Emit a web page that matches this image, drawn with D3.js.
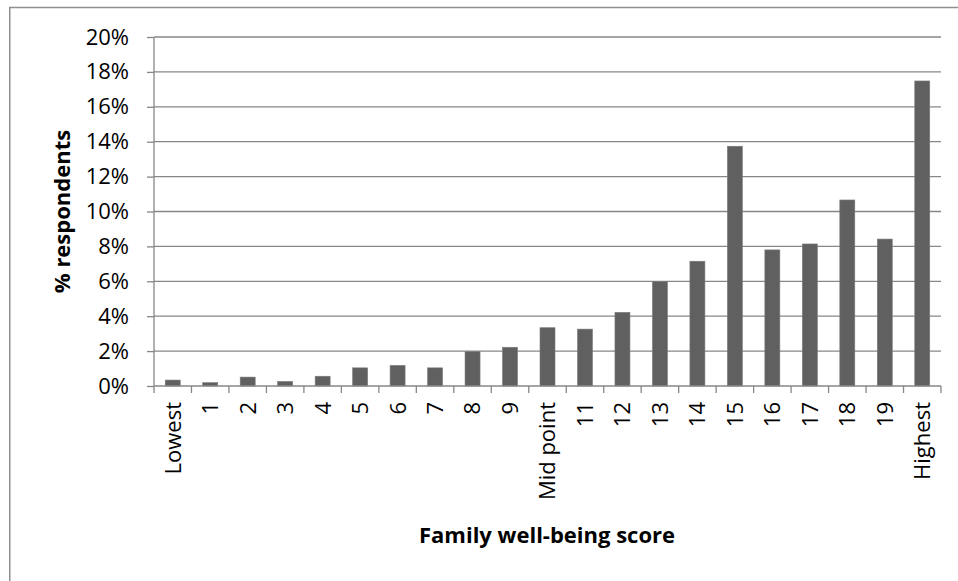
<!DOCTYPE html>
<html>
<head>
<meta charset="utf-8">
<script src="https://cdn.jsdelivr.net/npm/d3@7"></script>
<style>
  html, body { margin: 0; padding: 0; background: #fff; }
  svg { display: block; font-family: "Open Sans", "Noto Sans", sans-serif; }
</style>
</head>
<body>
<svg id="chart" width="958" height="581"></svg>
<script>
const categories = ["Lowest","1","2","3","4","5","6","7","8","9","Mid point","11","12","13","14","15","16","17","18","19","Highest"];
const values = [0.34, 0.19, 0.51, 0.26, 0.56, 1.04, 1.18, 1.04, 1.97, 2.22, 3.34, 3.26, 4.22, 5.98, 7.15, 13.74, 7.8, 8.14, 10.66, 8.42, 17.48];
const yTicks = [0, 2, 4, 6, 8, 10, 12, 14, 16, 18, 20];
const xTitle = "Family well-being score";
const yTitle = "% respondents";

const svg = d3.select("#chart");
const W = 958, H = 581;
const plot = { left: 154, right: 941, top: 37, bottom: 386 };

svg.append("rect").attr("width", W).attr("height", H).attr("fill", "#fff");
// outer frame (extends beyond the picture on the right and bottom)
svg.append("rect")
  .attr("x", 9.75).attr("y", 7.5).attr("width", 1000).attr("height", 1000)
  .attr("fill", "none").attr("stroke", "#8f8f8f").attr("stroke-width", 1.5);

const x = d3.scaleBand().domain(categories).range([plot.left, plot.right])
  .paddingInner(0.6).paddingOuter(0.3);
const y = d3.scaleLinear().domain([0, 20]).range([plot.bottom, plot.top]);

const gridColor = "#878787";

// gridlines
svg.append("g").selectAll("line").data(yTicks.filter(d => d > 0)).join("line")
  .attr("x1", plot.left).attr("x2", plot.right)
  .attr("y1", d => y(d)).attr("y2", d => y(d))
  .attr("stroke", gridColor).attr("stroke-width", 1.3);

// bars
svg.append("g").selectAll("rect").data(categories).join("rect")
  .attr("x", d => x(d)).attr("width", x.bandwidth())
  .attr("y", (d, i) => y(values[i]))
  .attr("height", (d, i) => y(0) - y(values[i]))
  .attr("fill", "#606060").attr("stroke", "#7a7a7a").attr("stroke-width", 0.6);

// y axis
const yAxis = d3.axisLeft(y).tickValues(yTicks).tickSize(7).tickPadding(18)
  .tickFormat(d => d + "%");
const gy = svg.append("g").attr("transform", `translate(${plot.left},0)`).call(yAxis);
gy.select(".domain").attr("stroke", gridColor).attr("stroke-width", 1.3).attr("d", `M0,${plot.bottom}V${plot.top}`);
gy.selectAll(".tick line").attr("stroke", gridColor).attr("stroke-width", 1.3);
gy.selectAll(".tick text").attr("font-size", 22).attr("fill", "#000")
  .attr("font-family", "'Open Sans', sans-serif");

// x axis line and tick marks at band boundaries
const step = x.step();
const boundaries = d3.range(categories.length + 1).map(i => plot.left + i * step);
svg.append("line").attr("x1", plot.left).attr("x2", plot.right)
  .attr("y1", plot.bottom).attr("y2", plot.bottom)
  .attr("stroke", gridColor).attr("stroke-width", 1.3);
svg.append("g").selectAll("line").data(boundaries).join("line")
  .attr("x1", d => d).attr("x2", d => d)
  .attr("y1", plot.bottom).attr("y2", plot.bottom + 7)
  .attr("stroke", gridColor).attr("stroke-width", 1.3);

// category labels (rotated)
svg.append("g").selectAll("text").data(categories).join("text")
  .attr("transform", d => `translate(${x(d) + x.bandwidth() / 2},${plot.bottom + 16}) rotate(-90)`)
  .attr("text-anchor", "end").attr("dy", "0.36em")
  .attr("font-size", 22).attr("fill", "#000")
  .text(d => d);

// axis titles
svg.append("text").attr("x", 547).attr("y", 543)
  .attr("text-anchor", "middle").attr("font-weight", "bold").attr("font-size", 22)
  .attr("fill", "#000").text(xTitle);
svg.append("text").attr("transform", `translate(70,${(plot.top + plot.bottom) / 2}) rotate(-90)`)
  .attr("text-anchor", "middle").attr("font-weight", "bold").attr("font-size", 22)
  .attr("fill", "#000").text(yTitle);
</script>
</body>
</html>
